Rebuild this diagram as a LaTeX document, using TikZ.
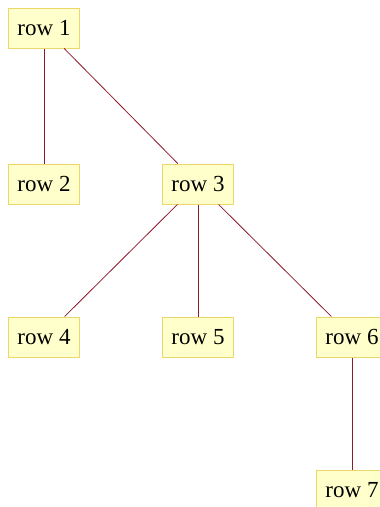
\documentclass[tikz,border=0pt]{standalone}
\usepackage{fontspec}
\setmainfont{Liberation Serif}
\definecolor{boxfill}{HTML}{FFFFCC}
\definecolor{boxline}{HTML}{EED76A}
\definecolor{edge}{HTML}{8B1A2A}
\begin{document}
\begin{tikzpicture}[x=1pt,y=-1pt,
  box/.style={draw=boxline,fill=boxfill,line width=1pt,minimum width=71pt,minimum height=40pt,inner sep=0pt,font=\fontsize{23}{27}\selectfont},
  link/.style={draw=edge,line width=0.8pt}]
\useasboundingbox (0,0) rectangle (380,507);
\node[box] (r1) at (44,28) {row 1};
\node[box] (r2) at (44,184) {row 2};
\node[box] (r3) at (198,184) {row 3};
\node[box] (r4) at (44,337) {row 4};
\node[box] (r5) at (198,337) {row 5};
\node[box] (r6) at (352,337) {row 6};
\node[box] (r7) at (352,490) {row 7};
\draw[link] (r1) -- (r2);
\draw[link] (r1) -- (r3);
\draw[link] (r3) -- (r4);
\draw[link] (r3) -- (r5);
\draw[link] (r3) -- (r6);
\draw[link] (r6) -- (r7);
\end{tikzpicture}
\end{document}
